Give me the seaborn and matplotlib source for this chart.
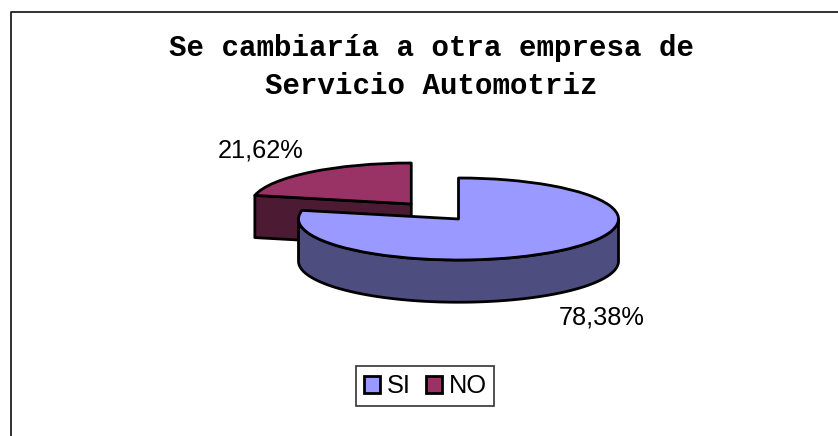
import numpy as np
import matplotlib
matplotlib.use('Agg')
import matplotlib.pyplot as plt
from matplotlib.lines import Line2D
import seaborn as sns

labels = ['SI', 'NO']
values = [78.38, 21.62]
top_colors = ['#9999FF', '#993366']
side_colors = ['#4D4D80', '#4D1A33']
explode = [0, 0.47]
title = 'Se cambiaría a otra empresa de\nServicio Automotriz'

W, H = 838, 436
cx, cy, rx, ry = 458.5, 219, 160, 41
depth = 1.03

sns.set_theme(style='white')
plt.rcParams['font.family'] = ['Liberation Sans', 'DejaVu Sans']

def fx(px):
    return px / W

def fy(py):
    return 1 - py / H

fig = plt.figure(figsize=(W / 100, H / 100), dpi=100, facecolor='white')
ax = fig.add_axes([0, 0, 1, 1])

wedges, _ = ax.pie(values, explode=explode, colors=top_colors, startangle=90,
                   counterclock=False, radius=1,
                   wedgeprops={'edgecolor': 'black', 'linewidth': 2, 'zorder': 3, 'joinstyle': 'round'})
ax.set_aspect('auto')
ax.set_xlim((0 - cx) / rx, (W - cx) / rx)
ax.set_ylim((cy - H) / ry, cy / ry)
ax.axis('off')

# extruded sides, angles come from the values (clockwise from 12 o'clock)
ends = np.cumsum(values) / sum(values) * 2 * np.pi
si_end, no_end = ends
mid = (si_end + no_end) / 2
ox = explode[1] * np.sin(mid)
oy = explode[1] * np.cos(mid)

# NO: cut face towards the viewer
lx = ox + np.sin(si_end)
ly = oy + np.cos(si_end)
ax.fill([lx, ox, ox, lx], [ly, oy, oy - depth, ly - depth], facecolor=side_colors[1],
        edgecolor='black', linewidth=2, zorder=2, joinstyle='round')
wedges[1].set_zorder(3)

# SI: front rim
t = np.linspace(np.pi / 2, 3 * np.pi / 2, 200)
xs = np.sin(t)
ys = np.cos(t)
ax.fill(np.r_[xs, xs[::-1]], np.r_[ys, ys[::-1] - depth], facecolor=side_colors[0],
        edgecolor='black', linewidth=2, zorder=4, joinstyle='round')
wedges[0].set_zorder(5)

fig.text(fx(431.5), fy(67), title, family=['Liberation Mono', 'DejaVu Sans Mono'], weight='bold',
         fontsize=21, color='black', ha='center', va='center', linespacing=1.45)

def pct(v):
    return f'{v:.2f}%'.replace('.', ',')

fig.text(fx(261), fy(150.5), pct(values[1]), fontsize=18.3, color='black', ha='center', va='center')
fig.text(fx(601.5), fy(317.5), pct(values[0]), fontsize=18.3, color='black', ha='center', va='center')

leg = fig.legend(wedges, labels, ncol=2, loc='center', bbox_to_anchor=(fx(425), fy(386)),
                 fontsize=18.3, labelcolor='black', frameon=True, fancybox=False, edgecolor='#333333',
                 framealpha=1, handlelength=0.65, handleheight=0.65, handletextpad=0.25,
                 columnspacing=0.6, borderpad=0.3, borderaxespad=0)
leg.get_frame().set_linewidth(1.2)

# chart border is cut off on the right and at the bottom
fig.add_artist(Line2D([fx(11), fx(11), fx(838)], [fy(436), fy(12), fy(12)],
                      color='#222222', linewidth=1.3))

fig.savefig('out.png', dpi=100)
